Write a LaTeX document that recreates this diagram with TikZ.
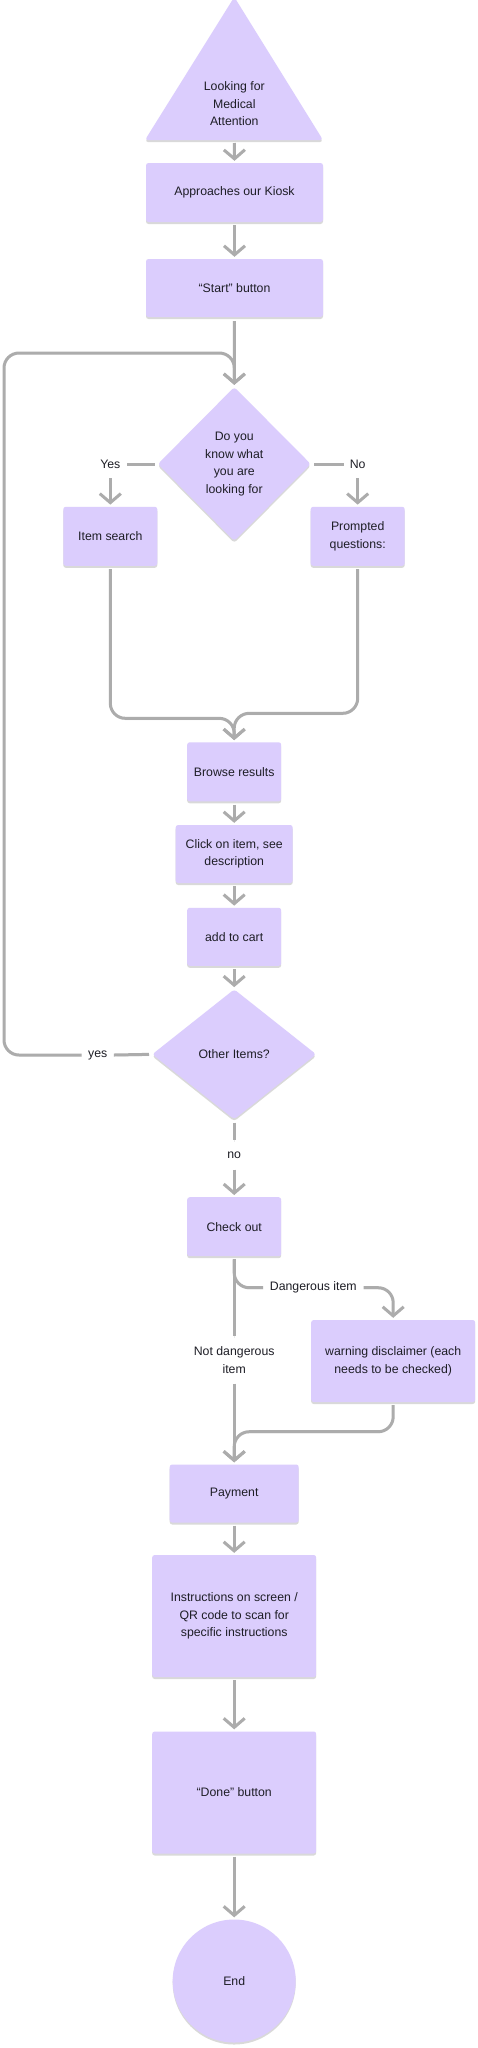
\documentclass[tikz,border=0pt]{standalone}
\usepackage{fontspec}
\setmainfont{Liberation Sans}
\usetikzlibrary{arrows.meta,shapes.geometric,shadows}
\definecolor{bg}{RGB}{255,255,255}
\definecolor{boxfill}{RGB}{219,205,253}
\definecolor{linecol}{RGB}{172,172,172}
\definecolor{txt}{RGB}{30,30,38}
\begin{document}
\begin{tikzpicture}[x=1pt,y=1pt,
  font=\fontsize{12.3}{17.6}\selectfont, text=txt,
  shad/.style={drop shadow={shadow xshift=0pt,shadow yshift=-2pt,opacity=0.15,fill=black}},
  box/.style={draw=none, fill=boxfill, rounded corners=2.5pt, align=center, inner sep=2pt, shad},
  dia/.style={diamond, draw=none, fill=boxfill, rounded corners=3pt, align=center, inner sep=0pt, shad},
  lbl/.style={fill=bg, inner sep=0pt, align=center},
  conn/.style={draw=linecol, line width=3pt, rounded corners=15pt,
    preaction={draw=black, opacity=0.08, transform canvas={yshift=-1.5pt}}},
  arr/.style={conn, -{Straight Barb[length=9pt,width=21pt]}, shorten >=2pt}
]
\fill[bg] (0,0) rectangle (478,-2048);
\useasboundingbox (0,0) rectangle (478,-2048);

% start triangle
\fill[boxfill, rounded corners=3pt, shad] (234.3,3) -- (323,-140) -- (145,-140) -- cycle;
\node[align=center] (looking) at (234.3,-104) {Looking for\\Medical\\Attention};
\coordinate (tribase) at (234.3,-140);

% boxes
\node[box, minimum width=177pt, minimum height=59pt] (kiosk) at (234.5,-192.5) {Approaches our Kiosk};
\node[box, minimum width=177pt, minimum height=58pt] (startbtn) at (234.5,-288) {“Start” button};
\node[dia, minimum width=153pt, minimum height=154pt] (q1) at (234.3,-464) {Do you\\know what\\you are\\looking for};
\node[box, minimum width=94pt, minimum height=59pt] (itemsearch) at (110.3,-536.3) {Item search};
\node[box, minimum width=94pt, minimum height=59pt] (prompted) at (357.7,-536.3) {Prompted\\questions:};
\node[box, minimum width=94pt, minimum height=59pt] (browse) at (234.2,-771.8) {Browse results};
\node[box, minimum width=117pt, minimum height=58pt] (click) at (234.2,-854) {Click on item, see\\description};
\node[box, minimum width=94pt, minimum height=58pt] (cart) at (234.2,-936.8) {add to cart};
\node[dia, minimum width=164pt, minimum height=130pt] (q2) at (234.2,-1054.3) {Other Items?};
\node[box, minimum width=94pt, minimum height=59pt] (checkout) at (234.2,-1226.7) {Check out};
\node[box, minimum width=164pt, minimum height=82pt] (warning) at (393.2,-1361) {warning disclaimer (each\\needs to be checked)};
\node[box, minimum width=129pt, minimum height=58pt] (payment) at (234.2,-1493.5) {Payment};
\node[box, minimum width=164pt, minimum height=122pt] (instr) at (234.2,-1616) {Instructions on screen /\\QR code to scan for\\specific instructions};
\node[box, minimum width=164pt, minimum height=122pt] (done) at (234.2,-1792.5) {“Done” button};
\node[circle, fill=boxfill, draw=none, minimum size=123pt, shad] (endc) at (234.2,-1981) {End};

% labels
\node[lbl, minimum width=33pt, minimum height=28pt] (yes1) at (110.3,-464) {Yes};
\node[lbl, minimum width=27pt, minimum height=28pt] (no1) at (357.7,-464) {No};
\node[lbl, minimum width=32pt, minimum height=20pt] (yes2) at (97.7,-1055) {yes};
\node[lbl, minimum width=20pt, minimum height=29pt] (no2) at (234.2,-1155) {no};
\node[lbl, minimum width=100pt, minimum height=20pt] (danger) at (313.3,-1287.7) {Dangerous item};
\node[lbl, minimum width=80pt, minimum height=47pt] (notd) at (234.2,-1360) {Not dangerous\\item};

\coordinate (loopTL) at (4,-353);
\coordinate (mergeA) at (234.2,-718.3);
\coordinate (mergeB) at (234.2,-713.3);
\coordinate (mergeC) at (234.2,-1431.7);

% connectors
\draw[arr, shorten <=3pt] (tribase) -- (kiosk.north);
\draw[arr, shorten <=3pt] (kiosk.south) -- (startbtn.north);
\draw[arr, shorten <=4pt] (startbtn.south) -- (q1.north);
\draw[conn, shorten <=3pt] (q1.west) -- (yes1.east);
\draw[arr] (yes1.south) -- (itemsearch.north);
\draw[conn, shorten <=3pt] (q1.east) -- (no1.west);
\draw[arr] (no1.south) -- (prompted.north);
\draw[arr, shorten <=3pt] (itemsearch.south) |- (mergeA) -- (browse.north);
\draw[arr, shorten <=3pt] (prompted.south) |- (mergeB) -- (browse.north);
\draw[arr, shorten <=3pt] (browse.south) -- (click.north);
\draw[arr, shorten <=3pt] (click.south) -- (cart.north);
\draw[arr, shorten <=3pt] (cart.south) -- (q2.north);
\draw[conn, shorten <=3pt] (q2.west) -- (yes2.east);
\draw[arr] (yes2.west) -| (loopTL) -| (q1.north);
\draw[conn, shorten <=3pt] (q2.south) -- (no2.north);
\draw[arr] (no2.south) -- (checkout.north);
\draw[conn, shorten <=3pt] (checkout.south) -- (notd.north);
\draw[arr] (notd.south) -- (payment.north);
\draw[conn, shorten <=3pt] (checkout.south) |- (danger.west);
\draw[arr] (danger.east) -| (warning.north);
\draw[arr, shorten <=3pt] (warning.south) |- (mergeC) -- (payment.north);
\draw[arr, shorten <=3pt] (payment.south) -- (instr.north);
\draw[arr, shorten <=3pt] (instr.south) -- (done.north);
\draw[arr, shorten <=3pt] (done.south) -- (endc.north);
\end{tikzpicture}
\end{document}
